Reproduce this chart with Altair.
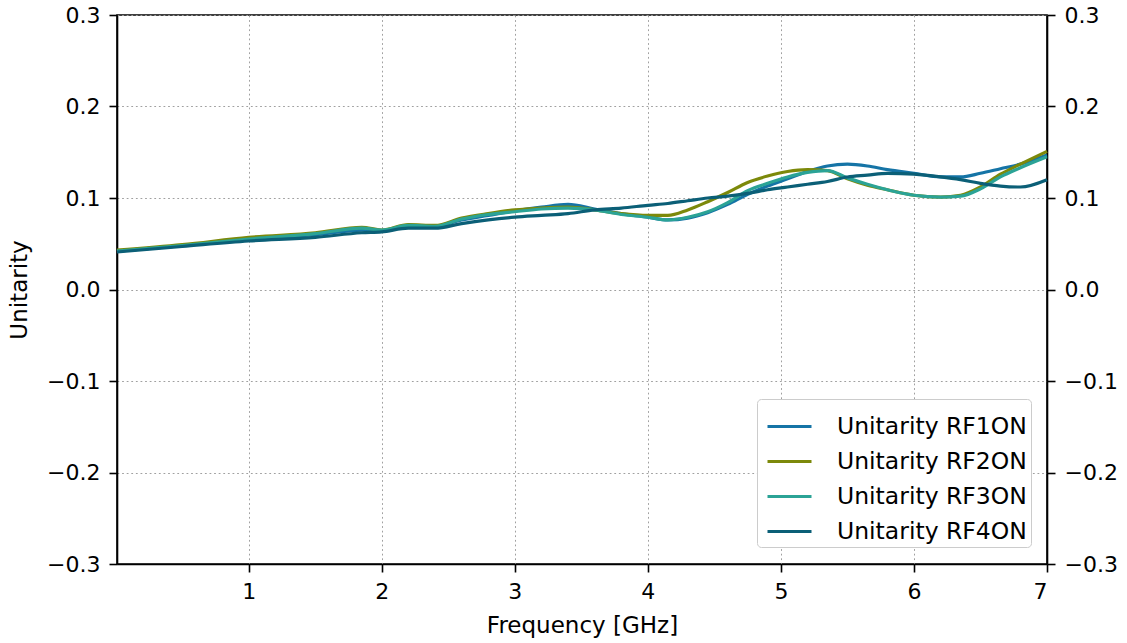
import altair as alt
import pandas as pd

freq = [0.01, 0.5, 1.0, 1.5, 1.85, 2.0, 2.2, 2.4, 2.6, 2.8, 3.0, 3.2, 3.4, 3.6, 3.8, 4.0, 4.15, 4.3,
        4.45, 4.6, 4.75, 4.9, 5.05, 5.2, 5.35, 5.5, 5.65, 5.8, 6.0, 6.2, 6.35, 6.5, 6.65, 6.8, 7.0]

rf1 = [0.042, 0.048, 0.055, 0.060, 0.065, 0.064, 0.070, 0.069, 0.076, 0.081, 0.086, 0.090, 0.093, 0.088,
       0.083, 0.079, 0.076, 0.078, 0.084, 0.093, 0.104, 0.113, 0.121, 0.129, 0.135, 0.137, 0.135, 0.131,
       0.127, 0.123, 0.123, 0.127, 0.132, 0.137, 0.147]
rf2 = [0.043, 0.049, 0.057, 0.062, 0.068, 0.065, 0.071, 0.070, 0.078, 0.083, 0.087, 0.089, 0.090, 0.087,
       0.083, 0.081, 0.081, 0.087, 0.096, 0.106, 0.117, 0.124, 0.129, 0.131, 0.130, 0.121, 0.114, 0.109,
       0.103, 0.101, 0.103, 0.112, 0.126, 0.137, 0.151]
rf3 = [0.042, 0.048, 0.055, 0.061, 0.067, 0.065, 0.070, 0.069, 0.077, 0.082, 0.085, 0.088, 0.089, 0.087,
       0.082, 0.079, 0.076, 0.079, 0.085, 0.095, 0.108, 0.116, 0.123, 0.128, 0.130, 0.122, 0.115, 0.109,
       0.103, 0.101, 0.102, 0.110, 0.123, 0.133, 0.145]
rf4 = [0.041, 0.047, 0.053, 0.057, 0.062, 0.063, 0.067, 0.067, 0.072, 0.076, 0.079, 0.081, 0.083, 0.087,
       0.089, 0.092, 0.094, 0.097, 0.100, 0.102, 0.105, 0.109, 0.112, 0.115, 0.118, 0.123, 0.125, 0.127,
       0.126, 0.123, 0.120, 0.116, 0.113, 0.112, 0.120]

series_names = ["Unitarity RF1ON", "Unitarity RF2ON", "Unitarity RF3ON", "Unitarity RF4ON"]
series_colors = ["#1574a6", "#7c890a", "#2ba396", "#0b5f77"]
x_ticks = [1, 2, 3, 4, 5, 6, 7]
y_ticks = [-0.3, -0.2, -0.1, 0.0, 0.1, 0.2, 0.3]

rows = []
for name, vals in zip(series_names, [rf1, rf2, rf3, rf4]):
    for f, v in zip(freq, vals):
        rows.append({"freq": f, "value": v, "series": name})
df = pd.DataFrame(rows)

xscale = alt.Scale(domain=[0.01, 7], nice=False, zero=False)
yscale = alt.Scale(domain=[-0.3, 0.3], nice=False, zero=False)

grid_kw = dict(grid=True, gridDash=[1.8, 2.8], gridColor="#a0a0a0", gridWidth=1)
x_axis = alt.Axis(title="Frequency [GHz]", values=x_ticks, format="d",
                  labelPadding=9, titlePadding=12, **grid_kw)

lines = alt.Chart(df).mark_line(strokeWidth=3.2, interpolate="monotone").encode(
    x=alt.X("freq:Q", scale=xscale, axis=x_axis),
    y=alt.Y("value:Q", scale=yscale,
            axis=alt.Axis(title="Unitarity", values=y_ticks, format=".1f",
                          labelPadding=9, titlePadding=15, **grid_kw)),
    color=alt.Color("series:N", scale=alt.Scale(domain=series_names, range=series_colors),
                    legend=alt.Legend(title=None, orient="none", legendX=640, legendY=384,
                                      symbolType="stroke", symbolSize=1936, symbolStrokeWidth=3,
                                      symbolOffset=5,
                                      labelFontSize=23.5, labelFont="DejaVu Sans", labelColor="black",
                                      labelLimit=0,
                                      fillColor="white", strokeColor="#cccccc", cornerRadius=4,
                                      padding=4, rowPadding=0, labelOffset=24)),
)

right = alt.Chart(df).mark_line(opacity=0).encode(
    x=alt.X("freq:Q", scale=xscale, axis=x_axis),
    y=alt.Y("value:Q", scale=yscale,
            axis=alt.Axis(orient="right", title=None, values=y_ticks, format=".1f", grid=False,
                          labelPadding=9)),
)

chart = alt.layer(lines, right).resolve_scale(y="independent").properties(
    width=930, height=549,
    background="white",
    autosize=alt.AutoSizeParams(type="none"),
    padding={"left": 117, "top": 15, "right": 80, "bottom": 79},
).configure_view(stroke="black", strokeWidth=1.6).configure_axis(
    domainColor="black", domainWidth=1.6, tickColor="black", tickSize=8, tickWidth=1.6,
    labelFont="DejaVu Sans", labelFontSize=22, labelColor="black",
    titleFont="DejaVu Sans", titleFontSize=23, titleFontWeight="normal", titleColor="black",
)

chart.save("out.html", embed_options={"renderer": "svg", "actions": False})
